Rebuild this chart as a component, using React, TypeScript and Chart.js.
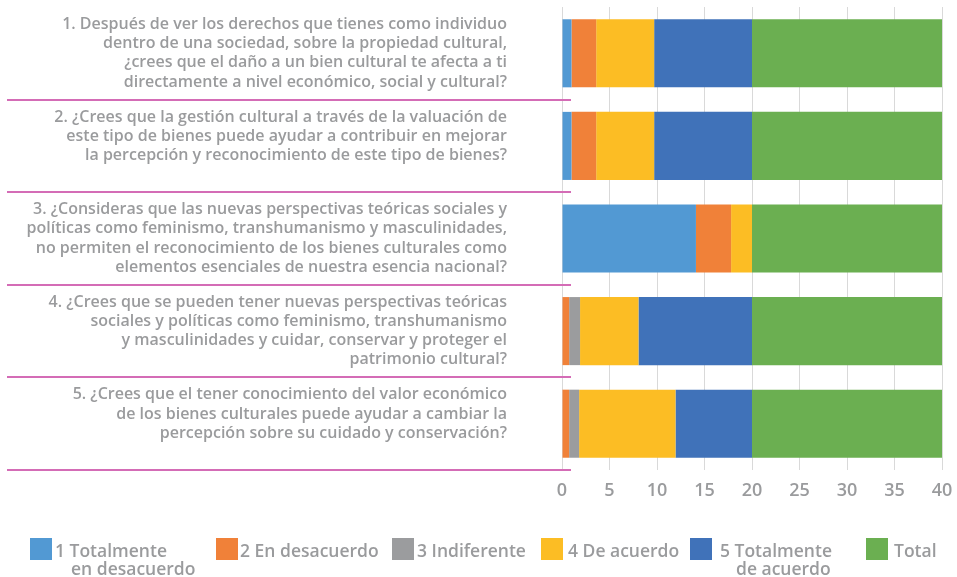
import React, { useEffect, useRef } from "react";
import { Chart, registerables } from "chart.js";
Chart.register(...registerables);

const categories: string[][] = [
  [
    "1. Después de ver los derechos que tienes como individuo",
    "dentro de una sociedad, sobre la propiedad cultural,",
    "¿crees que el daño a un bien cultural te afecta a ti",
    "directamente a nivel económico, social y cultural?",
  ],
  [
    "2. ¿Crees que la gestión cultural a través de la valuación de",
    "este tipo de bienes puede ayudar a contribuir en mejorar",
    "la percepción y reconocimiento de este tipo de bienes?",
    "",
  ],
  [
    "3. ¿Consideras que las nuevas perspectivas teóricas sociales y",
    "políticas como feminismo, transhumanismo y masculinidades,",
    "no permiten el reconocimiento de los bienes culturales como",
    "elementos esenciales de nuestra esencia nacional?",
  ],
  [
    "4. ¿Crees que se pueden tener nuevas perspectivas teóricas",
    "sociales y políticas como feminismo, transhumanismo",
    "y masculinidades y cuidar, conservar y proteger el",
    "patrimonio cultural?",
  ],
  [
    "5. ¿Crees que el tener conocimiento del valor económico",
    "de los bienes culturales puede ayudar a cambiar la",
    "percepción sobre su cuidado y conservación?",
    "",
  ],
];

const seriesNames: string[][] = [
  ["1 Totalmente", "en desacuerdo"],
  ["2 En desacuerdo"],
  ["3 Indiferente"],
  ["4 De acuerdo"],
  ["5 Totalmente", "de acuerdo"],
  ["Total"],
];

const totalmenteDesacuerdo = [1, 1, 14.1, 0, 0];
const enDesacuerdo = [2.6, 2.6, 3.7, 0.75, 0.75];
const indiferente = [0, 0, 0, 1.15, 1.05];
const deAcuerdo = [6.1, 6.1, 2.2, 6.15, 10.15];
const totalmenteAcuerdo = [10.3, 10.3, 0, 11.95, 8.05];
const total = [20, 20, 20, 20, 20];

const seriesValues = [
  totalmenteDesacuerdo,
  enDesacuerdo,
  indiferente,
  deAcuerdo,
  totalmenteAcuerdo,
  total,
];
const seriesColors = ["#5299D3", "#F08139", "#9B9C9E", "#FCBD24", "#4072B9", "#6BAF51"];

const xMin = 0;
const xMax = 40;
const xStep = 5;

const TEXT = "#9A9B9D";
const FONT = "'Open Sans', sans-serif";

const separatorPlugin = {
  id: "separators",
  afterDraw(chart: any) {
    const ctx = chart.ctx;
    const ys = chart.scales.y;
    const n = categories.length;
    const step = (ys.bottom - ys.top) / n;
    ctx.save();
    ctx.strokeStyle = "#D46CB6";
    ctx.lineWidth = 2;
    for (let i = 0; i < n; i++) {
      const yy = Math.round(ys.getPixelForValue(i) + step / 2);
      ctx.beginPath();
      ctx.moveTo(7, yy);
      ctx.lineTo(chart.chartArea.left + 9, yy);
      ctx.stroke();
    }
    ctx.restore();
  },
};

const legendMarkerX = [30, 216, 392, 541, 690, 866];
const legendTextX = [55, 240, 417, 568, 720, 894];

const legendPlugin = {
  id: "customLegend",
  afterDraw(chart: any) {
    const ctx = chart.ctx;
    ctx.save();
    ctx.font = `600 17.5px ${FONT}`;
    ctx.textBaseline = "alphabetic";
    ctx.textAlign = "left";
    chart.data.datasets.forEach((ds: any, i: number) => {
      ctx.fillStyle = ds.backgroundColor;
      ctx.fillRect(legendMarkerX[i], 538, 22, 22);
      ctx.fillStyle = TEXT;
      seriesNames[i].forEach((ln: string, j: number) => {
        ctx.fillText(ln, legendTextX[i] + (j > 0 ? 16 : 0), 557 + j * 18);
      });
    });
    ctx.restore();
  },
};

export default function App() {
  const ref = useRef<HTMLCanvasElement | null>(null);
  useEffect(() => {
    if (!ref.current) return;
    const chart = new Chart(ref.current, {
      type: "bar",
      data: {
        labels: categories,
        datasets: seriesValues.map((vals, i) => ({
          label: seriesNames[i].join(" "),
          data: vals,
          backgroundColor: seriesColors[i],
          borderWidth: 0,
          barPercentage: 0.735,
          categoryPercentage: 1,
        })),
      },
      options: {
        indexAxis: "y",
        responsive: false,
        animation: false,
        layout: { padding: { left: 0, right: 15, top: 7, bottom: 67 } },
        plugins: {
          legend: { display: false },
          tooltip: { enabled: false },
        },
        scales: {
          x: {
            stacked: true,
            min: xMin,
            max: xMax,
            ticks: {
              stepSize: xStep,
              color: TEXT,
              padding: 10,
              font: { family: FONT, size: 18, weight: "600" },
            },
            grid: { color: "#D9D9D9", lineWidth: 1, drawTicks: false },
            border: { display: false },
            afterFit(scale: any) {
              scale.height = 40;
              scale.paddingLeft = 0;
              scale.paddingRight = 0;
            },
          },
          y: {
            stacked: true,
            ticks: {
              color: TEXT,
              padding: 55,
              autoSkip: false,
              font: { family: FONT, size: 16, weight: "600", lineHeight: 1.2 },
            },
            grid: { display: false, drawTicks: false },
            border: { display: true, color: "#D9D9D9" },
            afterFit(scale: any) {
              scale.width = 562;
              scale.paddingTop = 0;
              scale.paddingBottom = 0;
            },
          },
        },
      },
      plugins: [separatorPlugin, legendPlugin],
    });
    return () => chart.destroy();
  }, []);
  return (
    <div style={{ position: "fixed", left: 0, top: 0, width: 957, height: 577, background: "#fff" }}>
      <canvas ref={ref} width={957} height={577} style={{ display: "block" }} />
    </div>
  );
}
